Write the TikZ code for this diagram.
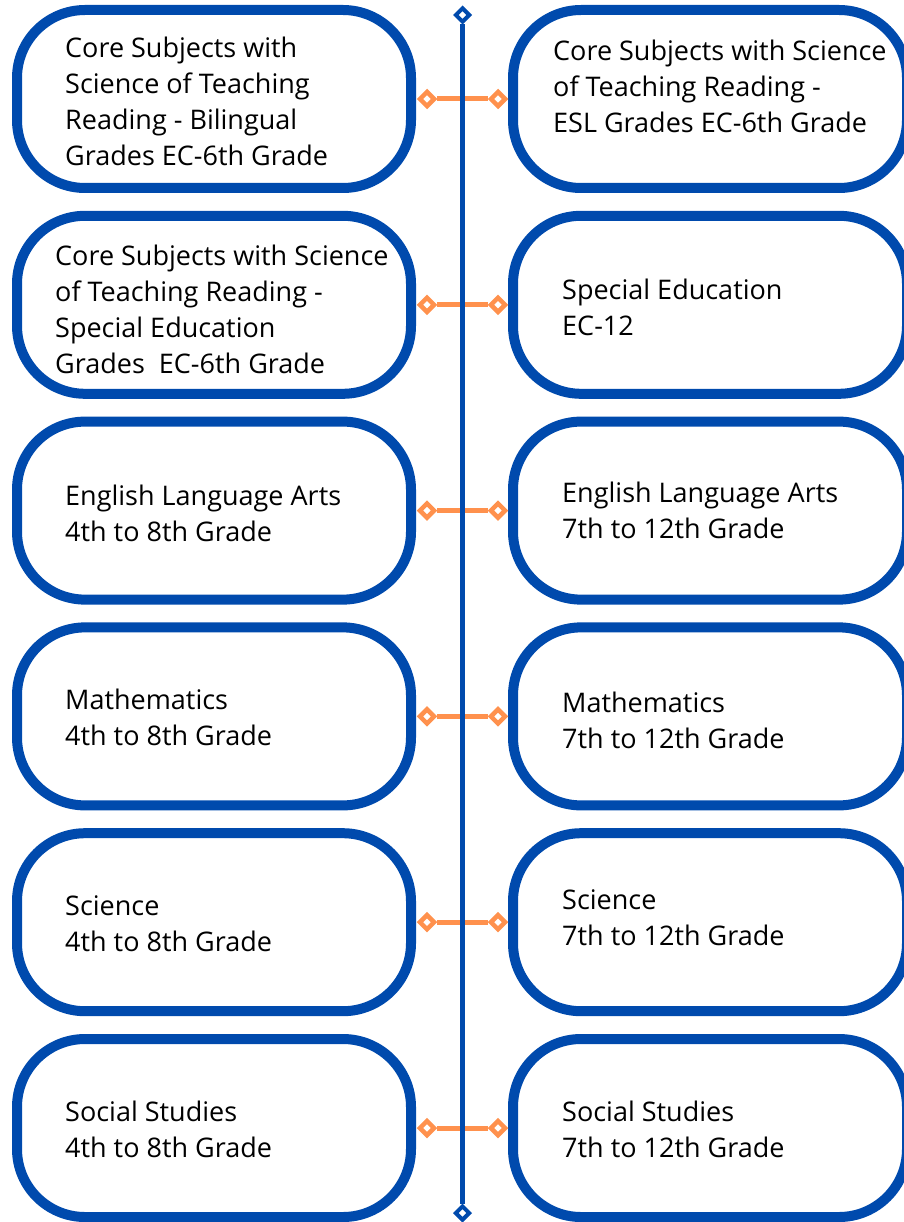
\documentclass[tikz,border=0pt]{standalone}
\usepackage{fontspec}
\setmainfont{Open Sans}
\usepackage{xcolor}
\definecolor{lineblue}{RGB}{0,74,173}
\definecolor{linkorange}{RGB}{255,145,77}
\usepackage{tikz}
\usetikzlibrary{shapes.geometric}
\newcommand{\widthcard}{394pt}
\newcommand{\heightcard}{178pt}
\newcommand{\rowpitch}{205.8}
\tikzset{
    card/.style={draw=lineblue, line width=10pt, rectangle, rounded corners=68pt, minimum width=\widthcard, minimum height=\heightcard},
    caption/.style={anchor=west, align=left, inner sep=0pt, font=\fontsize{27}{36}\selectfont},
    knob/.style={draw, diamond, fill=white, line width=4.5pt, inner sep=0pt, minimum size=16pt},
    link/.style={linkorange, line width=5pt},
    spine/.style={lineblue, line width=5.5pt}
}
\begin{document}
\begin{tikzpicture}[x=1pt, y=-1pt]
    \useasboundingbox (0,0) rectangle (903,1222);

    \foreach \i in {1,...,6} {
        \path
            (214,{99+\rowpitch*(\i-1)}) node[card] (L\i) {}
            (710,{99+\rowpitch*(\i-1)}) node[card] (R\i) {};
        \path
            (L\i.east) ++(11,0) node[knob, draw=linkorange] (kL\i) {}
            (R\i.west) ++(-10,0) node[knob, draw=linkorange] (kR\i) {};
        \draw[link] (kL\i) -- (kR\i);
    }

    \path (L1.west) ++(53,2.5) node[caption] (tL1) {Core Subjects with\\Science of Teaching\\Reading - Bilingual\\Grades EC-6th Grade};
    \path (R1.west) ++(45,-12.5) node[caption] (tR1) {Core Subjects with Science\\of Teaching Reading -\\ESL Grades EC-6th Grade};
    \path (L2.west) ++(43,5) node[caption] (tL2) {Core Subjects with Science\\of Teaching Reading -\\Special Education\\Grades\ \ EC-6th Grade};
    \path (R2.west) ++(54,3) node[caption] (tR2) {Special Education\\EC-12};
    \path (L3.west) ++(53,3) node[caption] (tL3) {English Language Arts\\4th to 8th Grade};
    \path (R3.west) ++(54,-0.5) node[caption] (tR3) {English Language Arts\\7th to 12th Grade};
    \path (L4.west) ++(53,1) node[caption] (tL4) {Mathematics\\4th to 8th Grade};
    \path (R4.west) ++(54,4) node[caption] (tR4) {Mathematics\\7th to 12th Grade};
    \path (L5.west) ++(53,2) node[caption] (tL5) {Science\\4th to 8th Grade};
    \path (R5.west) ++(54,-4) node[caption] (tR5) {Science\\7th to 12th Grade};
    \path (L6.west) ++(53,1.5) node[caption] (tL6) {Social Studies\\4th to 8th Grade};
    \path (R6.west) ++(54,1) node[caption] (tR6) {Social Studies\\7th to 12th Grade};

    \path
        (462.5,15) node[knob, draw=lineblue, minimum size=15pt, line width=4pt] (top) {}
        (462.5,1213) node[knob, draw=lineblue, minimum size=15pt, line width=4pt] (bottom) {};
    \draw[spine] (top) -- (bottom);
\end{tikzpicture}
\end{document}
